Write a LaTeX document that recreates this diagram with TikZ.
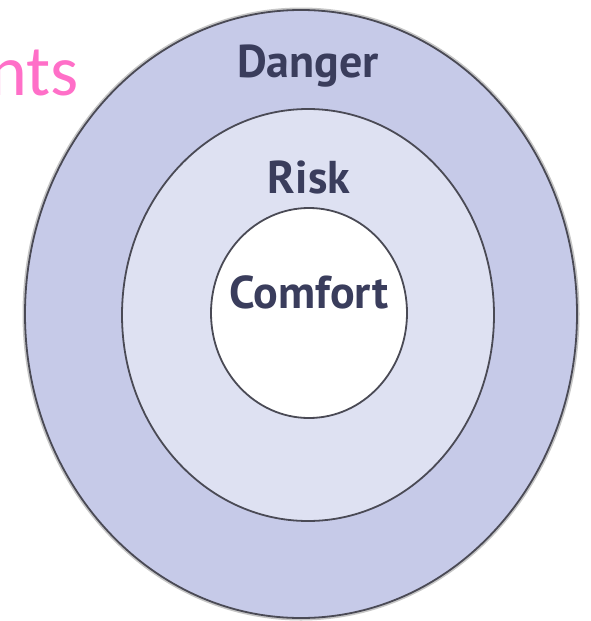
\documentclass[tikz,border=0pt]{standalone}
\usepackage{fontspec}
\setsansfont{PT Sans}
\newfontfamily\slidefont{Carlito}
\definecolor{dangerfill}{HTML}{C6CAE8}
\definecolor{riskfill}{HTML}{DEE1F2}
\definecolor{ringline}{HTML}{4A4A55}
\definecolor{zonetext}{HTML}{3A3D5C}
\definecolor{slidepink}{HTML}{FF6FC8}
\tikzset{
  ring/.style={draw=ringline,line width=1.8pt},
  zonelabel/.style={anchor=base,text=zonetext,font=\sffamily\bfseries\fontsize{46}{50}\selectfont}
}
\begin{document}
\begin{tikzpicture}[x=1pt,y=-1pt,line join=round,line cap=round]
	\useasboundingbox (0,0) rectangle (590,621);
	% three zones, outside in
	\draw[gray!45,line width=3pt] (301,314) ellipse [x radius=277,y radius=305];
	\draw[ring,fill=dangerfill] (301,314) ellipse [x radius=276,y radius=304];
	\draw[ring,fill=riskfill] (308,315) ellipse [x radius=186,y radius=206];
	\draw[ring,fill=white] (309,313) ellipse [x radius=98,y radius=105];
	\node[zonelabel] (danger) at (308,77) {Danger};
	\node[zonelabel] (risk) at (309,193) {Risk};
	\node[zonelabel] (comfort) at (309,308) {Comfort};
	% cut-off slide title
	\node[anchor=base east,inner sep=0pt,text=slidepink,font=\slidefont\fontsize{72}{74}\selectfont] (title) at (79,95) {nts};
\end{tikzpicture}
\end{document}
